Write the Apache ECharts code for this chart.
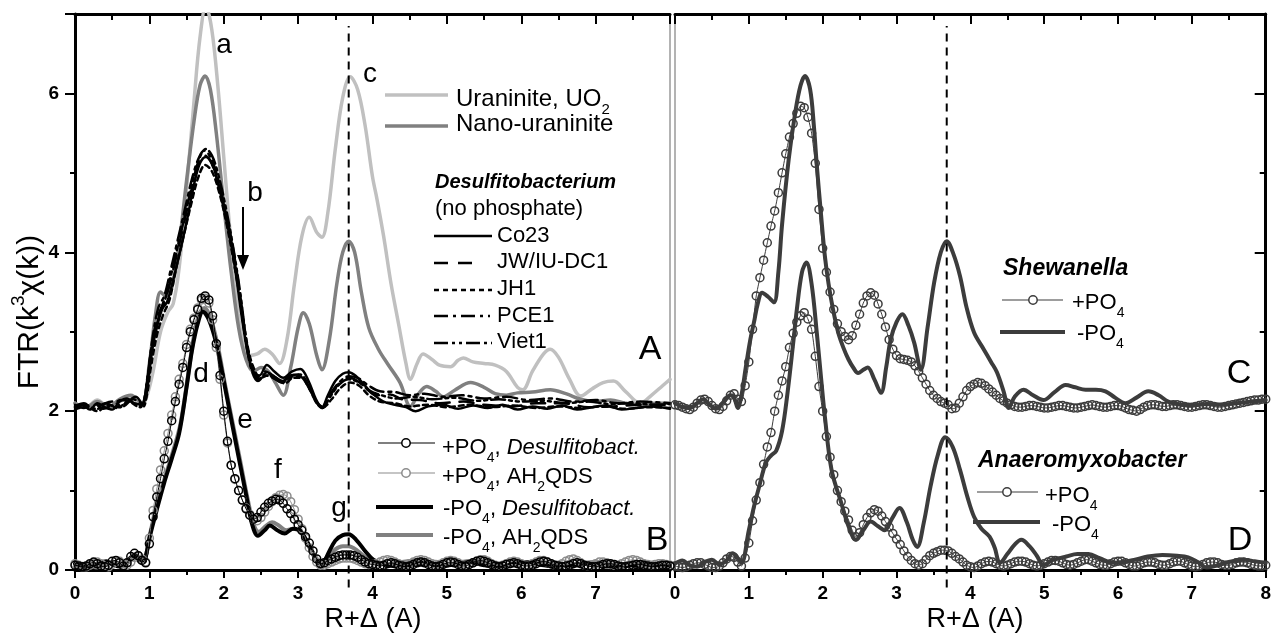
<!DOCTYPE html>
<html><head><meta charset="utf-8">
<script src="https://cdn.jsdelivr.net/npm/echarts@6/dist/echarts.min.js"></script>
<style>html,body{margin:0;padding:0;background:#fff}#c{width:1274px;height:636px}</style>
</head><body><div id="c"></div>
<script>
// ---------------- DATA ----------------
const X_TICKS = [0,1,2,3,4,5,6,7,8];
const Y_TICKS = [0,2,4,6];
const DASH_R = 3.68;
const R_STEP = 0.05; // sampling step of the circle-marker series (R from 0 to 8)

// Panel A (offset +2): [R, FTR]
const URANINITE = [[0,2.1],[0.15,2.05],[0.3,2.14],[0.45,2.05],[0.6,2.12],[0.75,2.18],[0.9,2.08],[0.97,2.2],[1.05,2.5],[1.15,3.0],[1.25,3.25],[1.32,3.35],[1.4,3.8],[1.5,4.8],[1.6,5.9],[1.68,6.7],[1.76,7.1],[1.84,6.8],[1.92,6.1],[2.0,5.2],[2.08,4.3],[2.16,3.5],[2.25,2.9],[2.35,2.7],[2.45,2.72],[2.55,2.78],[2.65,2.72],[2.75,2.6],[2.85,2.9],[2.95,3.6],[3.05,4.2],[3.15,4.44],[3.25,4.25],[3.32,4.19],[3.4,4.5],[3.5,5.3],[3.6,5.95],[3.7,6.21],[3.8,6.05],[3.9,5.6],[4.0,4.95],[4.06,4.67],[4.15,4.2],[4.25,3.6],[4.35,3.1],[4.45,2.6],[4.51,2.4],[4.6,2.6],[4.68,2.72],[4.8,2.65],[4.9,2.58],[5.05,2.56],[5.15,2.64],[5.22,2.67],[5.35,2.62],[5.5,2.6],[5.65,2.58],[5.8,2.5],[5.95,2.3],[6.02,2.27],[6.15,2.5],[6.3,2.72],[6.39,2.78],[6.5,2.68],[6.65,2.4],[6.8,2.19],[6.95,2.28],[7.1,2.36],[7.24,2.38],[7.4,2.25],[7.6,2.1],[7.75,2.2],[7.9,2.32],[8.0,2.4]];
const NANO = [[0,2.1],[0.15,2.05],[0.3,2.12],[0.45,2.05],[0.6,2.15],[0.75,2.2],[0.9,2.1],[1.0,2.6],[1.08,3.2],[1.15,3.5],[1.22,3.45],[1.3,3.55],[1.4,4.1],[1.5,4.9],[1.6,5.65],[1.68,6.1],[1.75,6.22],[1.82,6.05],[1.9,5.5],[2.0,4.6],[2.1,3.75],[2.2,3.05],[2.3,2.65],[2.4,2.5],[2.5,2.55],[2.6,2.5],[2.7,2.35],[2.8,2.2],[2.9,2.55],[3.0,3.05],[3.07,3.24],[3.15,3.1],[3.25,2.7],[3.32,2.52],[3.42,2.9],[3.52,3.6],[3.6,4.0],[3.68,4.14],[3.76,4.0],[3.85,3.5],[3.95,3.05],[4.08,2.78],[4.2,2.6],[4.37,2.36],[4.51,2.06],[4.62,2.22],[4.73,2.31],[4.85,2.25],[4.95,2.18],[5.1,2.26],[5.32,2.36],[5.5,2.3],[5.65,2.22],[5.8,2.2],[5.95,2.23],[6.15,2.24],[6.39,2.27],[6.6,2.22],[6.8,2.15],[7.0,2.12],[7.2,2.14],[7.4,2.1],[7.6,2.08],[7.8,2.1],[8.0,2.1]];
const CO23 = [[0,2.05],[0.1,2.08],[0.2,2.02],[0.3,2.1],[0.4,2.05],[0.5,2.02],[0.6,2.12],[0.7,2.16],[0.8,2.1],[0.9,2.08],[0.96,2.3],[1.02,2.7],[1.1,3.05],[1.17,3.28],[1.24,3.38],[1.32,3.65],[1.41,4.0],[1.5,4.38],[1.6,4.85],[1.68,5.12],[1.76,5.2],[1.84,5.12],[1.92,4.88],[2.0,4.55],[2.08,4.2],[2.16,3.75],[2.24,3.2],[2.32,2.75],[2.4,2.48],[2.48,2.45],[2.58,2.58],[2.68,2.5],[2.8,2.42],[2.92,2.5],[3.03,2.53],[3.14,2.38],[3.24,2.15],[3.32,2.05],[3.4,2.2],[3.5,2.38],[3.6,2.47],[3.68,2.49],[3.78,2.44],[3.9,2.32],[4.0,2.22],[4.15,2.12],[4.3,2.08],[4.45,2.05],[4.58,2.0],[4.75,2.06],[4.95,2.08],[5.15,2.03],[5.35,2.07],[5.55,2.04],[5.75,2.08],[5.95,2.02],[6.15,2.06],[6.35,2.03],[6.55,2.07],[6.75,2.02],[6.95,2.05],[7.15,2.07],[7.35,2.02],[7.55,2.04],[7.75,2.06],[8.0,2.03]];
const JW_IU_DC1 = [[0,2.08],[0.12,2.04],[0.25,2.1],[0.38,2.03],[0.5,2.08],[0.62,2.14],[0.75,2.12],[0.88,2.05],[0.95,2.25],[1.02,2.75],[1.1,3.15],[1.18,3.35],[1.26,3.55],[1.35,3.9],[1.45,4.3],[1.55,4.72],[1.65,5.08],[1.74,5.22],[1.82,5.15],[1.9,4.95],[2.0,4.6],[2.1,4.18],[2.2,3.6],[2.3,2.9],[2.38,2.55],[2.46,2.42],[2.56,2.5],[2.66,2.45],[2.78,2.38],[2.9,2.45],[3.02,2.46],[3.14,2.3],[3.24,2.12],[3.32,2.04],[3.42,2.18],[3.55,2.35],[3.68,2.42],[3.8,2.38],[3.92,2.28],[4.05,2.2],[4.24,2.21],[4.4,2.15],[4.64,2.14],[4.9,2.1],[5.22,2.12],[5.5,2.08],[5.9,2.06],[6.2,2.1],[6.57,2.1],[6.9,2.05],[7.24,2.06],[7.6,2.08],[7.9,2.08],[8.0,2.06]];
const JH1 = [[0,2.02],[0.15,2.06],[0.3,2.0],[0.45,2.08],[0.6,2.05],[0.72,2.12],[0.85,2.06],[0.95,2.15],[1.02,2.55],[1.1,2.95],[1.18,3.2],[1.27,3.4],[1.36,3.8],[1.46,4.2],[1.56,4.6],[1.66,4.95],[1.75,5.1],[1.84,5.02],[1.94,4.75],[2.04,4.35],[2.14,3.85],[2.24,3.3],[2.32,2.82],[2.4,2.55],[2.5,2.42],[2.6,2.45],[2.7,2.4],[2.82,2.35],[2.94,2.42],[3.05,2.42],[3.16,2.28],[3.26,2.1],[3.34,2.05],[3.45,2.15],[3.58,2.3],[3.7,2.36],[3.82,2.32],[3.95,2.2],[4.1,2.12],[4.3,2.1],[4.5,2.06],[4.75,2.08],[5.0,2.05],[5.3,2.08],[5.6,2.05],[5.9,2.07],[6.2,2.04],[6.5,2.06],[6.8,2.04],[7.1,2.06],[7.4,2.03],[7.7,2.05],[8.0,2.04]];
const PCE1 = [[0,2.06],[0.12,2.1],[0.24,2.03],[0.36,2.08],[0.5,2.12],[0.64,2.06],[0.78,2.15],[0.9,2.1],[0.97,2.4],[1.04,2.9],[1.12,3.3],[1.2,3.45],[1.28,3.75],[1.38,4.15],[1.48,4.55],[1.58,4.95],[1.67,5.2],[1.74,5.28],[1.82,5.2],[1.9,5.0],[2.0,4.62],[2.1,4.15],[2.2,3.55],[2.3,2.85],[2.38,2.5],[2.46,2.38],[2.56,2.45],[2.66,2.42],[2.78,2.36],[2.9,2.42],[3.02,2.44],[3.14,2.3],[3.24,2.12],[3.32,2.06],[3.42,2.2],[3.55,2.36],[3.68,2.44],[3.8,2.42],[3.95,2.32],[4.1,2.25],[4.3,2.24],[4.5,2.2],[4.7,2.22],[4.95,2.18],[5.2,2.2],[5.5,2.16],[5.8,2.18],[6.1,2.14],[6.4,2.16],[6.7,2.12],[7.0,2.14],[7.3,2.1],[7.6,2.12],[8.0,2.1]];
const VIET1 = [[0,2.04],[0.14,2.08],[0.28,2.02],[0.42,2.1],[0.56,2.04],[0.7,2.12],[0.82,2.18],[0.92,2.06],[0.98,2.35],[1.05,2.85],[1.13,3.2],[1.21,3.4],[1.3,3.75],[1.4,4.15],[1.5,4.55],[1.6,4.95],[1.69,5.22],[1.76,5.3],[1.84,5.22],[1.92,5.0],[2.02,4.6],[2.12,4.1],[2.22,3.5],[2.31,2.85],[2.39,2.5],[2.47,2.4],[2.57,2.48],[2.67,2.44],[2.79,2.38],[2.91,2.44],[3.03,2.46],[3.15,2.3],[3.25,2.1],[3.33,2.04],[3.43,2.18],[3.56,2.34],[3.68,2.4],[3.82,2.36],[3.96,2.26],[4.12,2.2],[4.32,2.16],[4.55,2.18],[4.8,2.15],[5.1,2.17],[5.4,2.13],[5.7,2.15],[6.0,2.12],[6.3,2.13],[6.6,2.1],[6.9,2.12],[7.2,2.09],[7.5,2.1],[7.8,2.08],[8.0,2.09]];

// Panel B (no offset)
const B_NEG_DESULF = [[0,0.08],[0.1,0.05],[0.2,0.03],[0.3,0.07],[0.42,0.11],[0.52,0.06],[0.62,0.04],[0.72,0.13],[0.8,0.19],[0.88,0.1],[0.94,0.14],[1.0,0.4],[1.1,0.76],[1.2,1.1],[1.3,1.4],[1.4,1.72],[1.5,2.3],[1.57,2.75],[1.65,3.1],[1.72,3.25],[1.8,3.15],[1.9,2.85],[2.0,2.38],[2.1,1.9],[2.2,1.42],[2.3,0.95],[2.38,0.58],[2.46,0.43],[2.55,0.5],[2.62,0.56],[2.72,0.5],[2.82,0.46],[2.93,0.52],[3.02,0.5],[3.12,0.36],[3.22,0.18],[3.31,0.04],[3.4,0.2],[3.5,0.37],[3.6,0.44],[3.68,0.45],[3.78,0.38],[3.9,0.24],[4.01,0.13],[4.15,0.07],[4.3,0.05],[4.5,0.06],[4.7,0.09],[4.9,0.05],[5.1,0.07],[5.3,0.1],[5.5,0.06],[5.7,0.04],[5.9,0.08],[6.1,0.1],[6.3,0.06],[6.5,0.04],[6.7,0.07],[6.9,0.08],[7.1,0.05],[7.3,0.04],[7.5,0.06],[7.7,0.07],[7.9,0.05],[8.0,0.05]];
const B_NEG_AH2QDS = [[0,0.05],[0.1,0.08],[0.2,0.06],[0.3,0.03],[0.42,0.07],[0.52,0.1],[0.62,0.06],[0.72,0.1],[0.8,0.16],[0.88,0.12],[0.95,0.18],[1.02,0.5],[1.12,0.88],[1.22,1.2],[1.32,1.5],[1.42,1.85],[1.52,2.45],[1.6,2.95],[1.67,3.22],[1.74,3.3],[1.82,3.18],[1.92,2.82],[2.02,2.32],[2.12,1.85],[2.22,1.38],[2.32,0.9],[2.4,0.58],[2.47,0.48],[2.56,0.55],[2.65,0.6],[2.74,0.56],[2.84,0.5],[2.94,0.52],[3.03,0.48],[3.12,0.34],[3.22,0.16],[3.3,0.06],[3.4,0.15],[3.5,0.26],[3.6,0.3],[3.68,0.3],[3.8,0.24],[3.92,0.15],[4.05,0.09],[4.2,0.07],[4.4,0.1],[4.6,0.12],[4.8,0.08],[5.0,0.06],[5.2,0.1],[5.4,0.12],[5.6,0.08],[5.8,0.05],[6.0,0.08],[6.2,0.11],[6.4,0.08],[6.6,0.05],[6.8,0.08],[7.0,0.1],[7.2,0.07],[7.4,0.06],[7.6,0.09],[7.8,0.08],[8.0,0.06]];
// circle series, one value per R_STEP from R=0 to R=8
const B_POS_DESULF = [
0.06,0.05,0.04,0.05,0.08,0.10,0.08,0.05,0.04,0.06,0.11,0.12,0.09,0.05,0.09,0.17,0.21,0.18,0.12,0.09,
0.33,0.67,0.92,1.15,1.40,1.62,1.88,2.12,2.34,2.55,2.80,3.00,3.15,3.28,3.42,3.45,3.40,3.20,2.85,2.45,
2.00,1.62,1.32,1.15,1.00,0.88,0.77,0.69,0.64,0.66,0.73,0.79,0.84,0.87,0.89,0.88,0.84,0.77,0.71,0.64,
0.57,0.50,0.42,0.34,0.24,0.14,0.08,0.09,0.12,0.14,0.16,0.18,0.19,0.19,0.19,0.18,0.16,0.13,0.10,0.08,
0.07,0.06,0.05,0.06,0.08,0.09,0.08,0.06,0.05,0.04,0.05,0.07,0.09,0.10,0.09,0.07,0.05,0.04,0.05,0.07,
0.09,0.10,0.09,0.07,0.05,0.05,0.07,0.09,0.11,0.12,0.11,0.09,0.07,0.05,0.04,0.05,0.07,0.08,0.09,0.08,
0.06,0.05,0.05,0.06,0.08,0.10,0.11,0.10,0.08,0.06,0.05,0.04,0.05,0.06,0.08,0.09,0.08,0.06,0.05,0.04,
0.04,0.05,0.07,0.08,0.08,0.07,0.05,0.04,0.04,0.05,0.06,0.07,0.07,0.06,0.05,0.04,0.04,0.05,0.06,0.06,
0.05];
const B_POS_AH2QDS = [
0.08,0.06,0.04,0.04,0.06,0.09,0.10,0.08,0.05,0.04,0.07,0.10,0.11,0.08,0.06,0.10,0.16,0.18,0.14,0.10,
0.40,0.75,1.02,1.26,1.50,1.72,1.95,2.18,2.40,2.60,2.84,3.03,3.17,3.30,3.40,3.42,3.36,3.15,2.80,2.40,
1.95,1.60,1.32,1.14,1.00,0.88,0.78,0.70,0.64,0.62,0.66,0.73,0.80,0.86,0.91,0.94,0.95,0.93,0.86,0.76,
0.64,0.52,0.40,0.28,0.17,0.10,0.06,0.06,0.08,0.10,0.12,0.14,0.15,0.15,0.15,0.14,0.12,0.10,0.08,0.07,
0.07,0.08,0.10,0.12,0.13,0.12,0.10,0.08,0.06,0.06,0.08,0.10,0.12,0.13,0.12,0.10,0.08,0.07,0.07,0.09,
0.11,0.12,0.11,0.09,0.07,0.06,0.07,0.09,0.11,0.13,0.13,0.11,0.08,0.06,0.05,0.06,0.08,0.10,0.11,0.10,
0.08,0.06,0.06,0.08,0.10,0.12,0.12,0.10,0.08,0.06,0.06,0.08,0.11,0.13,0.14,0.12,0.09,0.06,0.05,0.06,
0.08,0.10,0.10,0.09,0.07,0.06,0.06,0.08,0.10,0.12,0.13,0.12,0.10,0.08,0.07,0.06,0.07,0.08,0.08,0.07,
0.06];

// Panel C (Shewanella, offset +2)
const C_NEG = [[0,2.1],[0.1,2.05],[0.2,2.04],[0.3,2.1],[0.38,2.15],[0.47,2.08],[0.56,2.03],[0.66,2.12],[0.75,2.2],[0.8,2.17],[0.85,2.04],[0.9,2.2],[0.96,2.56],[1.02,2.9],[1.07,3.12],[1.12,3.35],[1.18,3.49],[1.26,3.44],[1.34,3.37],[1.4,3.75],[1.45,4.35],[1.54,5.17],[1.63,5.77],[1.7,6.1],[1.76,6.22],[1.83,6.05],[1.88,5.6],[1.92,5.1],[1.98,4.45],[2.03,3.95],[2.08,3.6],[2.14,3.28],[2.21,2.99],[2.28,2.8],[2.35,2.65],[2.42,2.54],[2.48,2.48],[2.55,2.52],[2.61,2.55],[2.7,2.4],[2.79,2.23],[2.86,2.55],[2.92,2.9],[3.0,3.12],[3.08,3.22],[3.16,3.08],[3.24,2.86],[3.33,2.52],[3.42,3.05],[3.51,3.62],[3.6,4.0],[3.68,4.14],[3.77,3.98],[3.86,3.7],[3.95,3.3],[4.05,2.99],[4.18,2.78],[4.28,2.62],[4.36,2.49],[4.45,2.25],[4.52,2.04],[4.6,2.18],[4.72,2.27],[4.85,2.2],[4.99,2.14],[5.14,2.24],[5.29,2.33],[5.42,2.3],[5.56,2.27],[5.7,2.27],[5.83,2.25],[5.96,2.17],[6.1,2.1],[6.25,2.17],[6.41,2.25],[6.55,2.2],[6.68,2.12],[6.85,2.08],[7.0,2.07],[7.2,2.09],[7.4,2.08],[7.6,2.1],[7.8,2.12],[8.0,2.14]];
const C_POS = [
2.08,2.07,2.05,2.03,2.02,2.05,2.10,2.14,2.15,2.12,2.07,2.03,2.02,2.06,2.13,2.20,2.22,2.15,2.12,2.32,
2.62,3.03,3.45,3.68,3.90,4.12,4.33,4.52,4.75,5.00,5.24,5.45,5.62,5.75,5.84,5.82,5.70,5.50,5.12,4.54,
4.05,3.75,3.50,3.28,3.10,3.00,2.94,2.90,2.95,3.08,3.22,3.36,3.45,3.49,3.46,3.35,3.22,3.06,2.90,2.78,
2.70,2.66,2.65,2.64,2.62,2.57,2.50,2.42,2.34,2.26,2.20,2.16,2.12,2.10,2.08,2.03,2.04,2.10,2.18,2.26,
2.31,2.34,2.36,2.35,2.32,2.28,2.24,2.20,2.16,2.13,2.10,2.08,2.06,2.05,2.05,2.06,2.07,2.07,2.06,2.05,
2.04,2.04,2.05,2.06,2.07,2.07,2.06,2.05,2.04,2.04,2.05,2.06,2.07,2.08,2.07,2.06,2.05,2.05,2.06,2.07,
2.07,2.06,2.04,2.02,2.01,2.00,2.02,2.05,2.07,2.08,2.08,2.07,2.06,2.06,2.07,2.08,2.08,2.07,2.06,2.05,
2.05,2.06,2.07,2.08,2.08,2.07,2.06,2.05,2.05,2.06,2.07,2.08,2.09,2.10,2.11,2.12,2.13,2.14,2.14,2.15,
2.15];

// Panel D (Anaeromyxobacter)
const D_NEG = [[0,0.08],[0.1,0.12],[0.2,0.06],[0.3,0.04],[0.4,0.1],[0.5,0.13],[0.6,0.07],[0.7,0.12],[0.78,0.21],[0.85,0.15],[0.9,0.09],[1.0,0.5],[1.07,0.8],[1.14,1.05],[1.23,1.35],[1.3,1.44],[1.37,1.5],[1.45,1.75],[1.52,2.2],[1.6,2.85],[1.65,3.28],[1.72,3.75],[1.78,3.87],[1.85,3.6],[1.92,2.99],[1.98,2.4],[2.03,1.93],[2.12,1.26],[2.25,0.85],[2.35,0.55],[2.45,0.38],[2.55,0.5],[2.65,0.61],[2.75,0.55],[2.84,0.5],[2.94,0.65],[3.04,0.78],[3.14,0.6],[3.22,0.38],[3.28,0.29],[3.37,0.6],[3.46,1.05],[3.56,1.45],[3.66,1.67],[3.76,1.55],[3.86,1.26],[3.96,0.92],[4.05,0.67],[4.15,0.52],[4.26,0.42],[4.33,0.28],[4.4,0.09],[4.5,0.2],[4.6,0.32],[4.69,0.38],[4.8,0.3],[4.9,0.18],[4.99,0.06],[5.1,0.12],[5.3,0.17],[5.45,0.2],[5.6,0.2],[5.75,0.15],[5.92,0.09],[6.08,0.1],[6.23,0.13],[6.4,0.17],[6.6,0.19],[6.8,0.18],[6.95,0.16],[7.08,0.1],[7.2,0.03],[7.35,0.06],[7.5,0.1],[7.7,0.13],[7.85,0.11],[8.0,0.09]];
const D_POS = [
0.05,0.04,0.03,0.04,0.06,0.08,0.09,0.09,0.07,0.05,0.03,0.03,0.05,0.09,0.14,0.17,0.16,0.10,0.05,0.15,
0.34,0.62,0.88,1.10,1.33,1.55,1.73,2.00,2.20,2.38,2.56,2.80,2.98,3.12,3.20,3.24,3.16,3.03,2.69,2.31,
2.00,1.68,1.42,1.20,1.00,0.86,0.74,0.63,0.50,0.42,0.47,0.57,0.66,0.72,0.76,0.74,0.68,0.61,0.54,0.46,
0.39,0.32,0.24,0.17,0.12,0.08,0.06,0.08,0.13,0.18,0.21,0.23,0.25,0.25,0.24,0.21,0.17,0.14,0.10,0.06,
0.04,0.03,0.05,0.08,0.10,0.11,0.10,0.08,0.06,0.05,0.06,0.08,0.10,0.11,0.11,0.10,0.08,0.06,0.05,0.06,
0.08,0.10,0.12,0.12,0.11,0.09,0.07,0.06,0.07,0.09,0.11,0.13,0.13,0.11,0.09,0.07,0.06,0.06,0.08,0.10,
0.11,0.11,0.09,0.07,0.05,0.05,0.07,0.09,0.10,0.10,0.09,0.07,0.06,0.06,0.08,0.10,0.11,0.11,0.09,0.07,
0.05,0.04,0.05,0.07,0.09,0.10,0.10,0.09,0.07,0.06,0.06,0.07,0.09,0.10,0.10,0.09,0.07,0.06,0.05,0.05,
0.06];

// ---------------- RENDER ----------------
const FONT = '"Liberation Sans", Arial, Helvetica, sans-serif';
const LIGHT = '#c0c0c0', MID = '#808080', BLK = '#000000', GCIR = '#8c8c8c', DARK = '#3c3c3c';
const DASH_JW = [14,10], DASH_JH = [5,4], DASH_PCE = [14,5,3,5], DASH_VIET = [14,4,3,4,3,4];
const onGrid = vals => vals.map((v,i) => [+(i*R_STEP).toFixed(2), v]);

const chart = echarts.init(document.getElementById('c'), null, {renderer:'canvas'});

function xAx(gi, pos, showLabels, hide8) {
  return {
    type:'value', gridIndex:gi, position:pos, min:0, max:8, interval:1,
    axisLine:{show:true, onZero:false, lineStyle:{color:'#000', width:3}},
    axisTick:{show:true, inside: pos==='top', length: pos==='top'?10:8, lineStyle:{width:2,color:'#000'}},
    minorTick:{show:true, splitNumber:2, length: pos==='top'?6:5, lineStyle:{width:2,color:'#000'}},
    axisLabel:{show:showLabels, margin:14, fontFamily:FONT, fontWeight:'bold', fontSize:19, color:'#000',
      formatter: v => (hide8 && v===8) ? '' : String(v)},
    splitLine:{show:false}
  };
}
function yAx(gi, pos, style) {
  const base = {type:'value', gridIndex:gi, position:pos, min:0, max:7, interval:2, splitLine:{show:false}};
  if (style==='labels') return Object.assign(base, {
    axisLine:{show:true, onZero:false, lineStyle:{color:'#000', width:3}},
    axisTick:{show:true, inside:false, length:10, lineStyle:{width:2,color:'#000'}},
    minorTick:{show:true, splitNumber:2, length:5, lineStyle:{width:2,color:'#000'}},
    axisLabel:{show:true, margin:16, fontFamily:FONT, fontWeight:'bold', fontSize:19, color:'#000',
      formatter: v => Y_TICKS.includes(v) ? String(v) : ''}
  });
  if (style==='gray') return Object.assign(base, {
    axisLine:{show:true, onZero:false, lineStyle:{color:'#9a9a9a', width:1.5}},
    axisTick:{show:false}, minorTick:{show:false}, axisLabel:{show:false}
  });
  return Object.assign(base, {
    axisLine:{show:true, onZero:false, lineStyle:{color:'#000', width:3}},
    axisTick:{show:true, inside:true, length:11, lineStyle:{width:2,color:'#000'}},
    minorTick:{show:true, splitNumber:2, length:6, lineStyle:{width:2,color:'#000'}},
    axisLabel:{show:false}
  });
}

function lineS(data, color, width, type, panel, z) {
  return {type:'line', data, xAxisIndex: panel===0?0:2, yAxisIndex: panel===0?0:2,
    showSymbol:false, smooth:0.35, clip:true, z: z||2, animation:false, silent:true,
    lineStyle:{color, width, type: type||'solid', cap:'round', join:'round'}};
}
function circS(vals, color, panel, z) {
  return {type:'line', data:onGrid(vals), xAxisIndex: panel===0?0:2, yAxisIndex: panel===0?0:2,
    showSymbol:true, showAllSymbol:true, symbol:'circle', symbolSize:8, smooth:0.2, clip:true, z: z||3,
    animation:false, silent:true,
    itemStyle:{color:'rgba(255,255,255,0)', borderColor:color, borderWidth:1.5},
    lineStyle:{color, width:1}};
}
function vline(panel) {
  return {type:'line', data:[[DASH_R,-0.22],[DASH_R,6.85]], xAxisIndex: panel===0?0:2, yAxisIndex: panel===0?0:2,
    showSymbol:false, clip:false, z:5, animation:false, silent:true,
    lineStyle:{color:'#000', width:2, type:[8,6]}};
}

// ---- legend / annotation graphics ----
const G = [];
const richStyles = (s) => ({
  s:{fontSize:Math.round(s*0.62), lineHeight:Math.round(s*0.62), padding:[Math.round(s*0.62),0,0,0], fontFamily:FONT, verticalAlign:'top'},
  i:{fontSize:s, fontStyle:'italic', fontFamily:FONT},
  n:{fontSize:s, fontFamily:FONT}
});
function txt(x, y, text, size, opt) {
  opt = opt || {};
  const yy = text.indexOf('{s|') >= 0 ? y + Math.round(size*0.12) : y;
  G.push({type:'text', x, y:yy, z:100, rotation: opt.rot||0, silent:true,
    style:{text, fontSize:size, fontFamily:FONT, fontWeight:opt.weight||'normal', fontStyle:opt.style||'normal',
      fill:'#000', align:opt.align||'left', verticalAlign:'middle', rich: richStyles(size)}});
}
function seg(x1,y1,x2,y2,color,w,dash) {
  G.push({type:'line', z:100, silent:true, shape:{x1,y1,x2,y2}, style:{stroke:color, lineWidth:w, lineDash:dash||null}});
}
function circ(cx,cy,color) {
  G.push({type:'circle', z:101, silent:true, shape:{cx,cy,r:4.2}, style:{fill:'#fff', stroke:color, lineWidth:1.5}});
}

// Panel A legend
seg(385,95,448,95,LIGHT,3.5); txt(456,96,'Uraninite, UO{s|2}',24);
seg(385,126,448,126,MID,3.5); txt(456,124,'Nano-uraninite',24);
txt(435,182,'Desulfitobacterium',20,{weight:'bold',style:'italic'});
txt(435,209,'(no phosphate)',22);
seg(434,236,492,236,BLK,2.5); txt(497,236,'Co23',22);
seg(434,263,480,263,BLK,2.5,DASH_JW); txt(497,262,'JW/IU-DC1',22);
seg(434,290,492,290,BLK,2.5,DASH_JH); txt(497,289,'JH1',22);
seg(434,316,490,316,BLK,2.5,DASH_PCE); txt(497,316,'PCE1',22);
seg(434,343,492,343,BLK,2.5,DASH_VIET); txt(497,342,'Viet1',22);
txt(650,350,'A',34,{align:'center'});
// Panel B legend
seg(378,443,435,443,BLK,1.2); circ(406,443,BLK); txt(442,445,'+PO{s|4}, {i|Desulfitobact.}',22);
seg(378,473,435,473,GCIR,1.2); circ(406,473,GCIR); txt(442,474,'+PO{s|4}, AH{s|2}QDS',22);
seg(376,507,433,507,BLK,4); txt(443,506,'-PO{s|4}, {i|Desulfitobact.}',22);
seg(376,535,433,535,MID,4); txt(443,535,'-PO{s|4}, AH{s|2}QDS',22);
txt(657,541,'B',34,{align:'center'});
// peak letters
txt(224,45,'a',28,{align:'center'});
txt(370,74,'c',28,{align:'center'});
txt(255,193,'b',28,{align:'center'});
txt(201,374,'d',28,{align:'center'});
txt(245,420,'e',28,{align:'center'});
txt(278,470,'f',28,{align:'center'});
txt(339,508,'g',28,{align:'center'});
// arrow b
seg(243,207,243,258,BLK,2);
G.push({type:'polygon', z:100, silent:true, shape:{points:[[237,255],[249,255],[243,270]]}, style:{fill:'#000'}});
// Panel C legend
txt(1003,269,'Shewanella',23,{weight:'bold',style:'italic'});
seg(1002,300,1063,300,DARK,1.2); circ(1033,300,DARK); txt(1072,300,'+PO{s|4}',22);
seg(1000,332,1065,332,DARK,4); txt(1077,331,'-PO{s|4}',22);
txt(1239,374,'C',34,{align:'center'});
// Panel D legend
txt(978,461,'Anaeromyxobacter',23,{weight:'bold',style:'italic'});
seg(977,492,1038,492,DARK,1.2); circ(1007,492,DARK); txt(1045,493,'+PO{s|4}',22);
seg(973,522,1040,522,DARK,4); txt(1052,522,'-PO{s|4}',22);
txt(1240,541,'D',34,{align:'center'});
// axis titles
txt(373,620,'R+Δ (A)',27,{align:'center'});
txt(975,620,'R+Δ (A)',27,{align:'center'});
G.push({type:'text', x:30, y:312, rotation:Math.PI/2, z:100, silent:true,
  style:{text:'FTR(k{p|3}χ(k))', fontSize:30, fontFamily:FONT, fill:'#000', align:'center', verticalAlign:'middle',
    rich:{p:{fontSize:19, lineHeight:19, padding:[0,0,22,0], fontFamily:FONT}}}});

const option = {
  backgroundColor:'#fff', animation:false,
  grid:[{left:75, top:14, width:595, height:556}, {left:675, top:14, width:597, height:556}],
  xAxis:[xAx(0,'bottom',true,true), xAx(0,'top',false,false), xAx(1,'bottom',true,false), xAx(1,'top',false,false)],
  yAxis:[yAx(0,'left','labels'), yAx(0,'right','gray'), yAx(1,'left','gray'), yAx(1,'right','ticks')],
  series:[
    lineS(URANINITE, LIGHT, 3.5, 'solid', 0, 2),
    lineS(NANO, MID, 3.5, 'solid', 0, 2),
    lineS(CO23, BLK, 2.5, 'solid', 0, 3),
    lineS(JW_IU_DC1, BLK, 2.5, DASH_JW, 0, 3),
    lineS(JH1, BLK, 2.5, DASH_JH, 0, 3),
    lineS(PCE1, BLK, 2.5, DASH_PCE, 0, 3),
    lineS(VIET1, BLK, 2.5, DASH_VIET, 0, 3),
    lineS(B_NEG_AH2QDS, MID, 4, 'solid', 0, 2),
    lineS(B_NEG_DESULF, BLK, 4, 'solid', 0, 2),
    circS(B_POS_AH2QDS, GCIR, 0, 3),
    circS(B_POS_DESULF, BLK, 0, 4),
    vline(0),
    circS(C_POS, DARK, 1, 3),
    lineS(C_NEG, DARK, 4, 'solid', 1, 4),
    circS(D_POS, DARK, 1, 3),
    lineS(D_NEG, DARK, 4, 'solid', 1, 4),
    vline(1)
  ],
  graphic: G
};
chart.setOption(option);
</script></body></html>
